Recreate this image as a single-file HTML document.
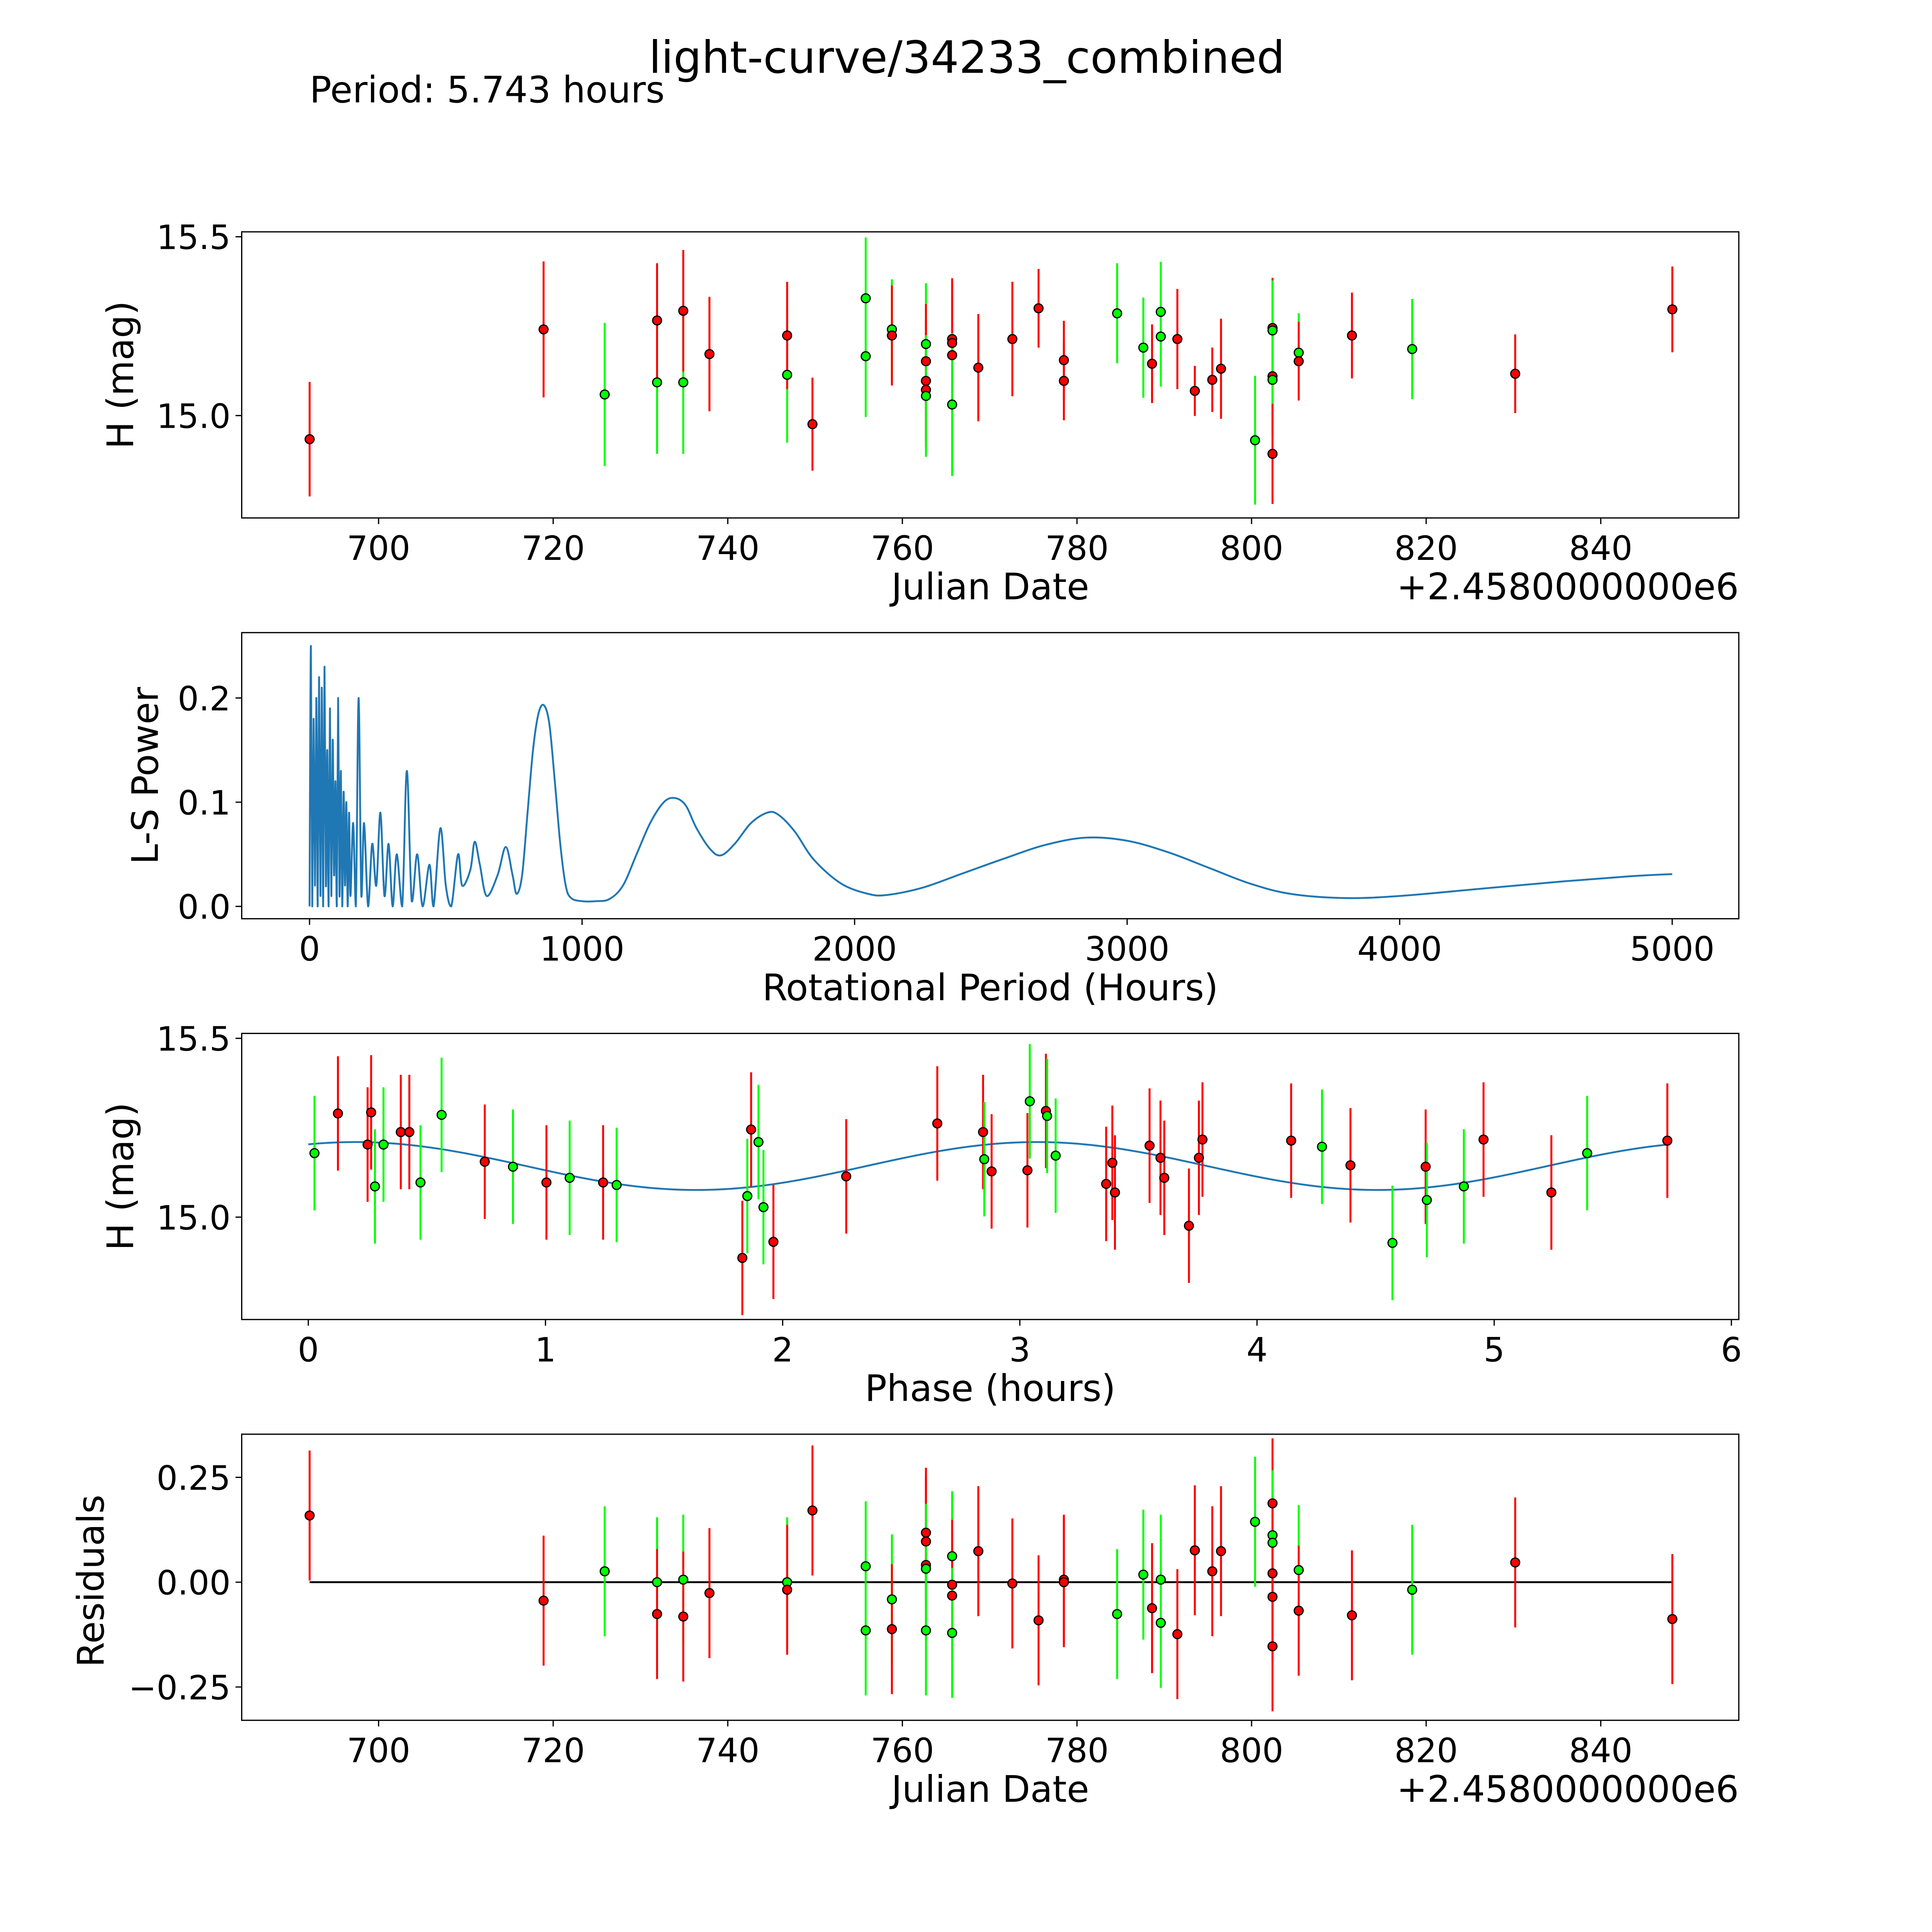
<!DOCTYPE html>
<html><head><meta charset="utf-8"><style>
html,body{margin:0;padding:0;background:#fff;overflow:hidden;}
svg{display:block;font-family:"DejaVu Sans","Liberation Sans",sans-serif;}
</style></head><body>
<svg id="fig" width="5400" height="5400" viewBox="0 0 1692 1692" xmlns="http://www.w3.org/2000/svg">
<rect width="1692" height="1692" fill="#fff"/>
<text x="784" y="59" font-size="36" text-anchor="middle">light-curve/34233_combined</text>
<text x="251" y="83" font-size="29.5">Period: 5.743 hours</text>
</svg>
<script>
// ---------- Panel 1: light curve ----------
const lcJD = [692.1,718.9,725.9,731.9,731.9,734.9,734.9,737.9,746.8,746.8,749.7,755.8,755.8,758.8,758.8,762.7,762.7,762.7,762.7,762.7,765.7,765.7,765.7,765.7,768.7,772.6,775.6,778.5,778.5,784.6,787.6,788.6,789.6,789.6,791.5,793.5,795.5,796.5,800.4,802.4,802.4,802.4,802.4,802.4,805.4,805.4,811.5,818.4,830.2,848.2];
const lcMag = [14.934,15.241,15.059,15.093,15.266,15.093,15.293,15.172,15.114,15.224,14.976,15.328,15.166,15.241,15.224,15.2,15.152,15.097,15.072,15.055,15.214,15.203,15.169,15.031,15.134,15.214,15.3,15.155,15.097,15.286,15.19,15.145,15.29,15.221,15.214,15.069,15.1,15.131,14.931,15.245,15.238,15.11,15.1,14.893,15.176,15.152,15.224,15.186,15.117,15.297];
const lcErr = [0.16,0.19,0.2,0.2,0.16,0.2,0.17,0.16,0.19,0.15,0.13,0.17,0.17,0.14,0.14,0.17,0.16,0.17,0.16,0.17,0.17,0.16,0.16,0.2,0.15,0.16,0.11,0.11,0.11,0.14,0.14,0.11,0.14,0.14,0.14,0.07,0.09,0.14,0.18,0.14,0.14,0.14,0.16,0.14,0.11,0.11,0.12,0.14,0.11,0.12];
const lcColor = ['r','r','g','g','r','g','r','r','g','r','r','g','g','g','r','g','r','r','r','g','r','r','r','g','r','r','r','r','r','g','g','r','g','g','r','r','r','r','g','r','g','r','g','r','g','r','r','g','r','r'];
const jdTicks = [700,720,740,760,780,800,820,840];
const magTicks = [15.0,15.5];

// ---------- Panel 2: periodogram ----------
const lsPeriod = [0,5,10,15,20,25,30,35,40,45,50,55,60,65,70,75,80,85,90,95,100,105,110,115,120,125,130,135,140,145,150,160,170,180,190,200,215,230,245,260,275,290,305,320,340,357,375,395,415,440,455,480,500,520,545,560,590,606,625,650,690,720,745,760,780,800,820,840,860,880,900,920,940,960,1000,1050,1100,1150,1200,1250,1300,1340,1380,1420,1470,1510,1560,1620,1680,1720,1780,1850,1950,2050,2120,2250,2400,2550,2700,2850,3000,3150,3300,3450,3600,3800,4000,4300,4600,4850,5000];
const lsPower = [0,0.25,0,0.18,0.02,0.2,0,0.22,0.01,0.21,0,0.23,0.02,0.15,0,0.19,0.01,0.16,0.03,0.12,0,0.2,0.01,0.13,0,0.11,0.02,0.1,0,0.09,0.01,0.08,0,0.2,0.01,0.08,0,0.06,0.02,0.09,0.01,0.06,0,0.05,0,0.13,0.005,0.05,0,0.04,0,0.075,0.02,0,0.05,0.02,0.035,0.062,0.04,0.01,0.03,0.057,0.03,0.012,0.03,0.09,0.15,0.185,0.193,0.175,0.12,0.06,0.02,0.008,0.005,0.005,0.007,0.02,0.05,0.08,0.1,0.104,0.097,0.075,0.055,0.049,0.06,0.08,0.09,0.088,0.072,0.045,0.022,0.012,0.011,0.018,0.032,0.046,0.059,0.066,0.063,0.052,0.037,0.022,0.012,0.008,0.01,0.017,0.024,0.029,0.031];
const lsXTicks = [0,1000,2000,3000,4000,5000];
const lsYTicks = [0.0,0.1,0.2];

// ---------- Panel 3: phased ----------
const phX = [0.026,0.125,0.250,0.265,0.281,0.317,0.390,0.426,0.473,0.562,0.744,0.863,1.004,1.102,1.243,1.300,1.830,1.851,1.867,1.898,1.919,1.961,2.268,2.652,2.845,2.850,2.881,3.032,3.042,3.110,3.115,3.151,3.364,3.390,3.401,3.547,3.593,3.609,3.755,3.770,3.713,4.144,4.274,4.394,4.571,4.711,4.716,4.872,4.955,5.241,5.392,5.730];
const phMag = [15.179,15.290,15.203,15.293,15.086,15.203,15.238,15.238,15.097,15.286,15.155,15.141,15.097,15.110,15.097,15.090,14.886,15.059,15.245,15.210,15.028,14.931,15.114,15.262,15.238,15.162,15.128,15.131,15.324,15.297,15.283,15.172,15.093,15.152,15.069,15.200,15.166,15.110,15.166,15.217,14.976,15.214,15.197,15.145,14.928,15.141,15.048,15.086,15.217,15.069,15.179,15.214];
const phColor = ['g','r','r','r','g','g','r','r','g','g','r','g','r','g','r','g','r','g','r','g','g','r','r','r','r','g','r','r','g','r','g','g','r','r','r','r','r','r','r','r','r','r','g','r','g','r','g','g','r','r','g','r'];
const fitParams = [15.143, 0.067, 0.2, 5.743]; // mean, amplitude, phase of max, period
const phXTicks = [0,1,2,3,4,5,6];

// ---------- Panel 4: residuals ----------
const resJD = [692.1,718.9,725.9,731.9,731.9,734.9,734.9,737.9,746.8,746.8,749.7,755.8,755.8,758.8,758.8,762.7,762.7,762.7,762.7,762.7,765.7,765.7,765.7,765.7,768.7,772.6,775.6,778.5,778.5,784.6,787.6,788.6,789.6,789.6,791.5,793.5,795.5,796.5,800.4,802.4,802.4,802.4,802.4,802.4,802.4,805.4,805.4,811.5,818.4,830.2,848.2];
const resVal = [0.159,-0.044,0.026,0,-0.076,0.006,-0.082,-0.026,0,-0.018,0.171,0.038,-0.115,-0.041,-0.112,0.118,0.097,0.041,0.032,-0.115,0.062,-0.006,-0.032,-0.121,0.074,-0.003,-0.091,0.006,0,-0.076,0.018,-0.062,0.006,-0.097,-0.124,0.076,0.026,0.074,0.144,0.188,0.112,0.094,0.021,-0.035,-0.153,0.029,-0.068,-0.079,-0.018,0.047,-0.088];
const resColor = ['r','r','g','g','r','g','r','r','g','r','r','g','g','g','r','r','r','r','g','g','g','r','r','g','r','r','r','r','r','g','g','r','g','g','r','r','r','r','g','r','g','g','r','r','r','g','r','r','g','r','r'];
const resErr = 0.155;
const resYTicks = [-0.25,0,0.25];

const NS='http://www.w3.org/2000/svg';
const svg=document.getElementById('fig');
function el(tag,attrs,parent){const e=document.createElementNS(NS,tag);for(const k in attrs)e.setAttribute(k,attrs[k]);(parent||svg).appendChild(e);return e;}
const COL={r:'#ff0000',g:'#00ff00'};
const AX_L=196,AX_R=1410;
const TICK_FS=27, LAB_FS=29.5;

function makeAxes(name){
  const g=el('g',{});
  
  
  return g;
}
function frame(g,top,bottom){
  const r=el('rect',{x:AX_L,y:top,width:AX_R-AX_L,height:bottom-top,fill:'none',stroke:'#000','stroke-width':1},g);
  
  
}
function xTicks(g,ticks,sx,bottom,fmt){
  ticks.forEach(t=>{const x=sx(t);
    el('line',{x1:x,x2:x,y1:bottom,y2:bottom+5,stroke:'#000','stroke-width':1},g);
    const tx=el('text',{x:x,y:bottom+34,'font-size':TICK_FS,'text-anchor':'middle'},g);tx.textContent=fmt(t);
    
    
  });
}
function yTicks(g,ticks,sy,fmt){
  ticks.forEach(t=>{const y=sy(t);
    el('line',{x1:AX_L-5,x2:AX_L,y1:y,y2:y,stroke:'#000','stroke-width':1},g);
    const tx=el('text',{x:AX_L-9,y:y+10,'font-size':TICK_FS,'text-anchor':'end'},g);tx.textContent=fmt(t);
    
    
  });
}
function label(g,txt,x,y,rot,name){
  const t=el('text',{x:x,y:y,'font-size':LAB_FS,'text-anchor':'middle',transform:rot?`rotate(-90 ${x} ${y})`:''},g);t.textContent=txt;
  
  
}
function points(g,xs,ys,errs,cols,sx,sy,name){
  xs.forEach((v,i)=>{
    const x=sx(v);const e=Array.isArray(errs)?errs[i]:errs;
    const l=el('line',{x1:x,x2:x,y1:sy(ys[i]-e),y2:sy(ys[i]+e),stroke:COL[cols[i]],'stroke-width':1.6},g);
    
    
  });
  xs.forEach((v,i)=>{
    const c=el('circle',{cx:sx(v),cy:sy(ys[i]),r:3.6,fill:COL[cols[i]],stroke:'#000','stroke-width':1},g);
    
    
  });
}
const fmtMag=t=>t.toFixed(1);
const sxJD=v=>307+(v-700)*7.079;

// Panel 1
{const top=188,bottom=420;const g=makeAxes('light-curve-panel');
 const sy=m=>337-(m-15.0)*290;
 frame(g,top,bottom);
 points(g,lcJD,lcMag,lcErr,lcColor,sxJD,sy,'observation-point');
 xTicks(g,jdTicks,sxJD,bottom,t=>String(t));yTicks(g,magTicks,sy,fmtMag);
 label(g,'Julian Date',803,486,false,'x-axis-title');
 label(g,'H (mag)',108,304,true,'y-axis-title');
 const o=el('text',{x:AX_R,y:486,'font-size':LAB_FS,'text-anchor':'end'},g);o.textContent='+2.4580000000e6';
 
 
}
// Panel 2
{const top=513,bottom=745;const g=makeAxes('periodogram-panel');
 const sx=p=>251+p*0.221, sy=v=>735-v*845;
 frame(g,top,bottom);
 const P=lsPeriod.map((p,i)=>[sx(p),sy(lsPower[i])]);
 let d='M'+P[0][0].toFixed(2)+' '+P[0][1].toFixed(2);
 for(let i=0;i<P.length-1;i++){
   const p0=P[Math.max(0,i-1)],p1=P[i],p2=P[i+1],p3=P[Math.min(P.length-1,i+2)];
   const c1=[p1[0]+(p2[0]-p0[0])/6,p1[1]+(p2[1]-p0[1])/6];
   const c2=[p2[0]-(p3[0]-p1[0])/6,p2[1]-(p3[1]-p1[1])/6];
   d+=`C${c1[0].toFixed(2)} ${Math.min(735,c1[1]).toFixed(2)} ${c2[0].toFixed(2)} ${Math.min(735,c2[1]).toFixed(2)} ${p2[0].toFixed(2)} ${p2[1].toFixed(2)}`;
 }
 const pth=el('path',{d:d,fill:'none',stroke:'#1f77b4','stroke-width':1.5,'stroke-linejoin':'round'},g);
 
 
 xTicks(g,lsXTicks,sx,bottom,t=>String(t));yTicks(g,lsYTicks,sy,t=>t.toFixed(1));
 label(g,'Rotational Period (Hours)',803,811,false,'x-axis-title');
 label(g,'L-S Power',128,629,true,'y-axis-title');
}
// Panel 3
{const top=838,bottom=1070;const g=makeAxes('phased-panel');
 const sx=p=>250+p*192.33, sy=m=>987-(m-15.0)*290;
 frame(g,top,bottom);
 let d='';const n=200;for(let i=0;i<=n;i++){const p=fitParams[3]*i/n;const m=fitParams[0]+fitParams[1]*Math.cos(4*Math.PI*(p-fitParams[2])/fitParams[3]);d+=(i?'L':'M')+sx(p).toFixed(2)+' '+sy(m).toFixed(2);}
 const pth=el('path',{d:d,fill:'none',stroke:'#1f77b4','stroke-width':1.5},g);
 
 
 points(g,phX,phMag,0.16,phColor,sx,sy,'phased-point');
 xTicks(g,phXTicks,sx,bottom,t=>String(t));yTicks(g,magTicks,sy,fmtMag);
 label(g,'Phase (hours)',803,1136,false,'x-axis-title');
 label(g,'H (mag)',108,954,true,'y-axis-title');
}
// Panel 4
{const top=1163,bottom=1395;const g=makeAxes('residuals-panel');
 const sy=v=>1283-v*340;
 frame(g,top,bottom);
 const zl=el('line',{x1:sxJD(resJD[0]),x2:sxJD(resJD[resJD.length-1]),y1:sy(0),y2:sy(0),stroke:'#000','stroke-width':1.5},g);
 
 
 points(g,resJD,resVal,resErr,resColor,sxJD,sy,'residual-point');
 xTicks(g,jdTicks,sxJD,bottom,t=>String(t));
 yTicks(g,resYTicks,sy,t=>t===0?'0.00':(t<0?'\u2212':'')+Math.abs(t).toFixed(2));
 label(g,'Julian Date',803,1461,false,'x-axis-title');
 label(g,'Residuals',84,1282,true,'y-axis-title');
 const o=el('text',{x:AX_R,y:1461,'font-size':LAB_FS,'text-anchor':'end'},g);o.textContent='+2.4580000000e6';
 
 
}
</script>
</body></html>
